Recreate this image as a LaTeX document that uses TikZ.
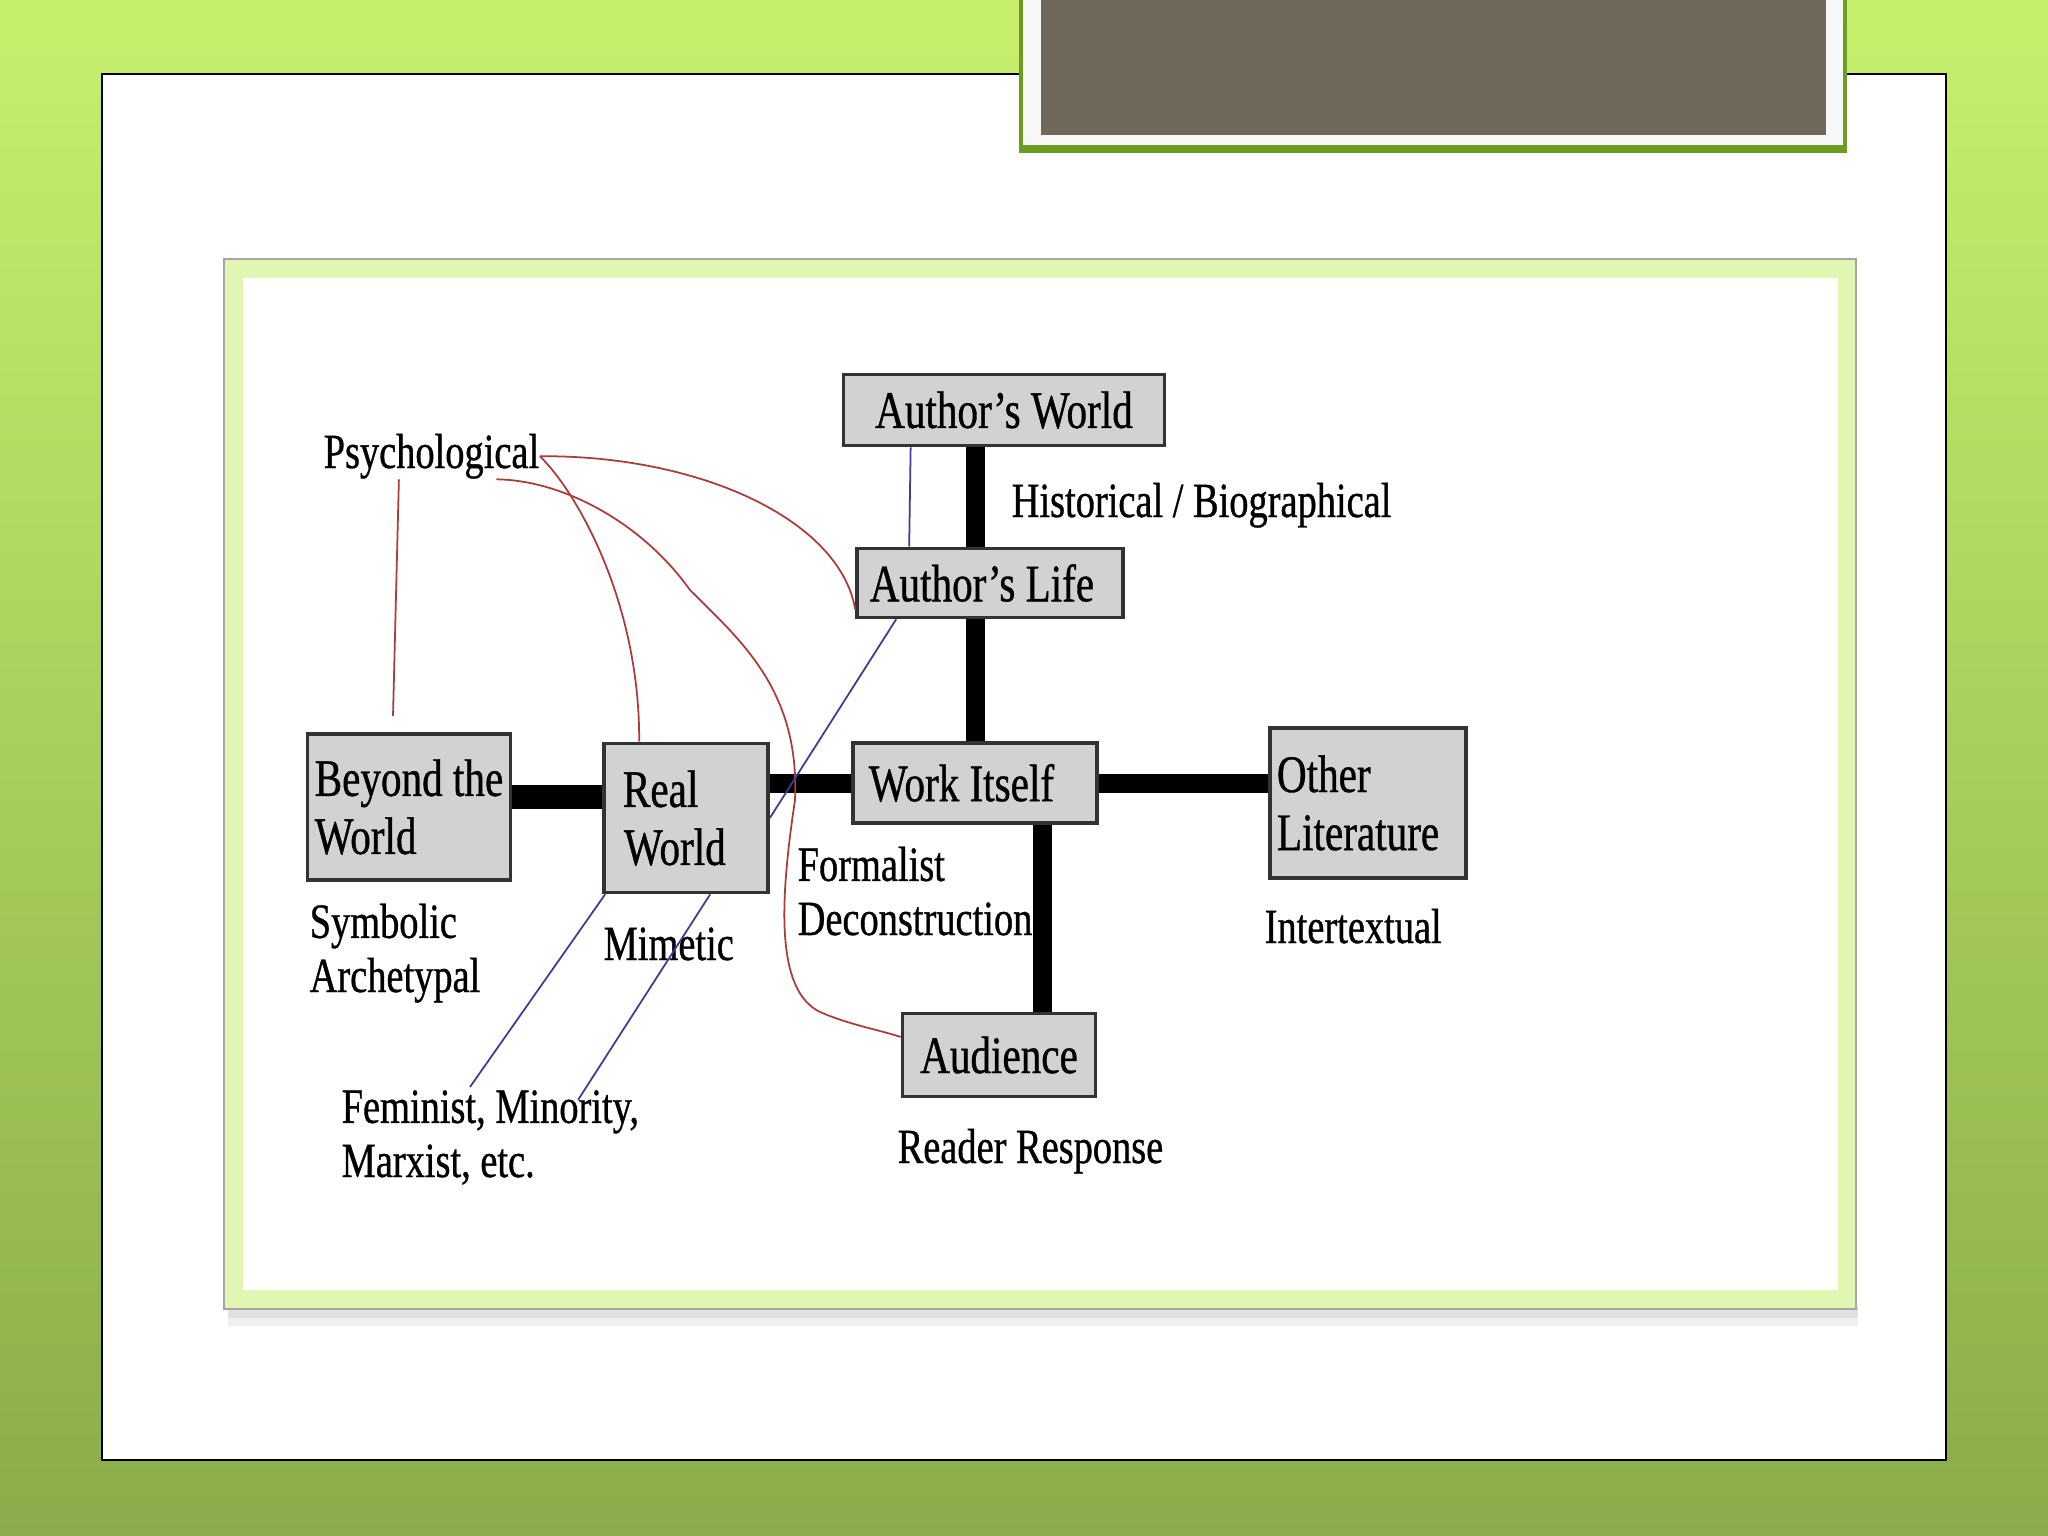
\documentclass[tikz,border=0pt]{standalone}
\usepackage{fontspec}
\usepackage{tikz}
\usetikzlibrary{calc,positioning}
\newfontfamily\boxfont[FakeStretch=0.78,FakeBold=0.7]{Liberation Serif}
\definecolor{slidetop}{RGB}{198,240,108}
\definecolor{slidebot}{RGB}{138,172,74}
\definecolor{framegreen}{RGB}{226,246,180}
\definecolor{titlebrown}{RGB}{112,103,91}
\definecolor{titleedge}{RGB}{108,156,36}
\definecolor{boxgray}{RGB}{210,210,210}
\definecolor{psyred}{RGB}{170,60,60}
\definecolor{linkblue}{RGB}{60,60,150}

\begin{document}
\begin{tikzpicture}[x=0.01cm,y=-0.01cm,
  box/.style={draw=black!80, line width=1pt, fill=boxgray, align=left, inner sep=2pt, font=\boxfont\fontsize{15pt}{16.5pt}\selectfont},
  lbl/.style={anchor=base west, inner sep=0pt, align=left, font=\boxfont\fontsize{14pt}{15.4pt}\selectfont},
  bar/.style={line width=5.4pt, black},
  psyline/.style={psyred, line width=0.5pt},
  critline/.style={linkblue, line width=0.5pt}]
  \useasboundingbox (0,0) rectangle (2048,1536);

  % Slide
  \shade[top color=slidetop, bottom color=slidebot] (0,0) rectangle (2048,1536);
  \draw[black, line width=0.8pt, fill=white] (102,74) rectangle (1946,1460);
  \draw[titleedge, line width=1.2pt, fill=black!3] (1021,-10) rectangle (1845,151);
  \draw[titleedge, line width=2pt] (1021,149) -- (1845,149);
  \fill[titlebrown] (1041,-10) rectangle (1826,135);

  % Picture frame
  \fill[black!12] (228,1306) rectangle (1858,1318);
  \fill[black!6] (228,1318) rectangle (1858,1326);
  \draw[black!35, fill=framegreen] (224,259) rectangle (1856,1309);
  \fill[white] (243,278) rectangle (1838,1290);

  % Boxes
  \node[box, minimum width=3.21cm, minimum height=0.71cm] (aworld) at (1004,410) {Author’s World};
  \node[box, minimum width=2.66cm, minimum height=0.69cm] (alife) at (990,583) {Author’s Life\hspace*{0.16cm}};
  \node[box, minimum width=2.44cm, minimum height=0.80cm] (work) at (975,783) {Work Itself\hspace*{0.27cm}};
  \node[box, minimum width=1.96cm, minimum height=1.50cm, text width=1.82cm] (other) at (1368,803) {Other\\Literature};
  \node[box, minimum width=1.93cm, minimum height=0.83cm] (audience) at (999,1055) {Audience};
  \node[box, minimum width=2.02cm, minimum height=1.46cm] (beyond) at (409,807) {Beyond the\\World};
  \node[box, minimum width=1.63cm, minimum height=1.49cm, text width=1.50cm] (real) at (686,818) {\hspace*{0.12cm}Real\\\hspace*{0.13cm}World};

  % Approaches
  \node[lbl] (psych) at (323,468) {Psychological};
  \node[lbl] (histbio) at (1011,517) {Historical / Biographical};
  \node[lbl] (symb) at (309,992) {Symbolic\\Archetypal};
  \node[lbl] (mimetic) at (603,960) {Mimetic};
  \node[lbl] (formal) at (797,935) {Formalist\\Deconstruction};
  \node[lbl] (intertext) at (1264,943) {Intertextual};
  \node[lbl] (fem) at (341,1177) {Feminist, Minority,\\Marxist, etc.};
  \node[lbl] (reader) at (897,1163) {Reader Response};

  % Main links
  \draw[bar] (aworld.south -| work.north) -- (alife.north -| work.north);
  \draw[bar] (alife.south -| work.north) -- (work.north);
  \draw[bar] (work.east) -- (other.west |- work.east);
  \draw[bar] ($(work.south)+(67,0)$) -- ($(audience.north)+(43,0)$);
  \draw[bar] (real.east |- work.west) -- (work.west);
  \draw[bar, line width=6.6pt] ($(beyond.east)+(0,-10)$) -- ($(real.west |- beyond.east)+(0,-10)$);

  % Psychological links
  \coordinate (symtop) at (393,716);
  \draw[psyline] ($(psych.south west)!0.35!(psych.south east)$) -- (symtop);
  \draw[psyline] (psych.east) .. controls (700,455) and (840,520) .. ($(alife.south west)+(0,-10)$);
  \draw[psyline] (psych.east) .. controls (575,490) and (640,600) .. ($(real.north west)+(37,0)$);
  \draw[psyline] ($(psych.south west)!0.8!(psych.south east)$) .. controls (560,480) and (640,520) .. (690,590)
    .. controls (740,640) and (800,690) .. (795,800) .. controls (780,900) and (775,990) .. (820,1012)
    .. controls (850,1025) and (880,1030) .. ($(audience.west)+(0,-18)$);

  % Other links
  \coordinate (femA) at (470,1087);
  \coordinate (femB) at (578,1100);
  \draw[critline] ($(aworld.south west)+(69,0)$) -- ($(alife.north west)+(54,0)$);
  \draw[critline] ($(alife.south west)+(41,0)$) -- (real.east);
  \draw[critline] ($(real.south west)+(3,0)$) -- (femA);
  \draw[critline] ($(real.south west)+(108,0)$) -- (femB);
\end{tikzpicture}
\end{document}
